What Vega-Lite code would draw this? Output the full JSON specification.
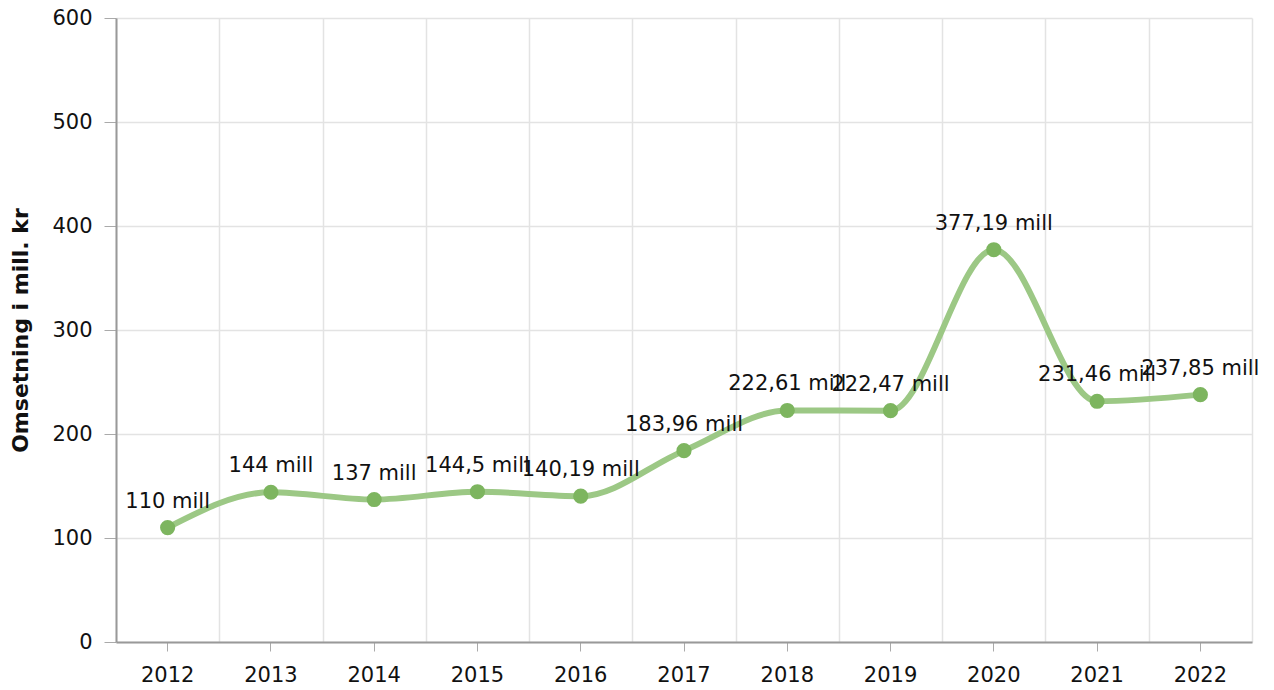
{
  "$schema": "https://vega.github.io/schema/vega-lite/v6.json",
  "autosize": {"type": "none"},
  "padding": {"left": 116, "top": 18, "right": 22, "bottom": 48},
  "width": 1136,
  "height": 624,
  "background": "white",
  "config": {
    "view": {"stroke": null},
    "font": "DejaVu Sans",
    "axis": {"labelFont": "DejaVu Sans", "titleFont": "DejaVu Sans", "labelColor": "#111", "titleColor": "#111"}
  },
  "data": {
    "values": [
      {"year": "2012", "value": 110, "label": "110 mill"},
      {"year": "2013", "value": 144, "label": "144 mill"},
      {"year": "2014", "value": 137, "label": "137 mill"},
      {"year": "2015", "value": 144.5, "label": "144,5 mill"},
      {"year": "2016", "value": 140.19, "label": "140,19 mill"},
      {"year": "2017", "value": 183.96, "label": "183,96 mill"},
      {"year": "2018", "value": 222.61, "label": "222,61 mill"},
      {"year": "2019", "value": 222.47, "label": "222,47 mill"},
      {"year": "2020", "value": 377.19, "label": "377,19 mill"},
      {"year": "2021", "value": 231.46, "label": "231,46 mill"},
      {"year": "2022", "value": 237.85, "label": "237,85 mill"}
    ]
  },
  "encoding": {
    "x": {"field": "year", "type": "ordinal", "scale": {"type": "band", "paddingInner": 0, "paddingOuter": 0}, "axis": null},
    "y": {"field": "value", "type": "quantitative", "scale": {"domain": [0, 600], "nice": false}}
  },
  "layer": [
    {
      "mark": {"type": "line", "interpolate": "monotone", "color": "#9cc885", "strokeWidth": 6},
      "encoding": {
        "x": {"field": "year", "type": "ordinal", "axis": {"orient": "top", "grid": true, "tickBand": "extent", "gridColor": "#e3e3e3", "gridWidth": 1.5, "domain": false, "ticks": false, "labels": false, "title": null}},
        "y": {"field": "value", "type": "quantitative", "axis": {"title": "Omsetning i mill. kr", "titleFontSize": 22, "titleFontWeight": "bold", "titlePadding": 19, "labelFontSize": 21, "labelPadding": 12, "tickSize": 12, "tickColor": "#aaa", "domainColor": "#999", "domainWidth": 2, "gridColor": "#e3e3e3", "gridWidth": 1.5, "values": [0, 100, 200, 300, 400, 500, 600]}}
      }
    },
    {
      "mark": {"type": "point", "filled": true, "opacity": 1, "color": "#7db55f", "size": 230},
      "encoding": {
        "x": {"field": "year", "type": "ordinal", "axis": {"orient": "bottom", "title": null, "grid": false, "labelAngle": 0, "labelFontSize": 21, "labelPadding": 13, "tickSize": 9, "tickColor": "#aaa", "domainColor": "#999", "domainWidth": 2}}
      }
    },
    {
      "mark": {"type": "text", "fontSize": 21, "align": "center", "baseline": "alphabetic", "dy": -20, "color": "#111"},
      "encoding": {"text": {"field": "label"}}
    }
  ],
  "resolve": {"axis": {"x": "independent"}}
}
